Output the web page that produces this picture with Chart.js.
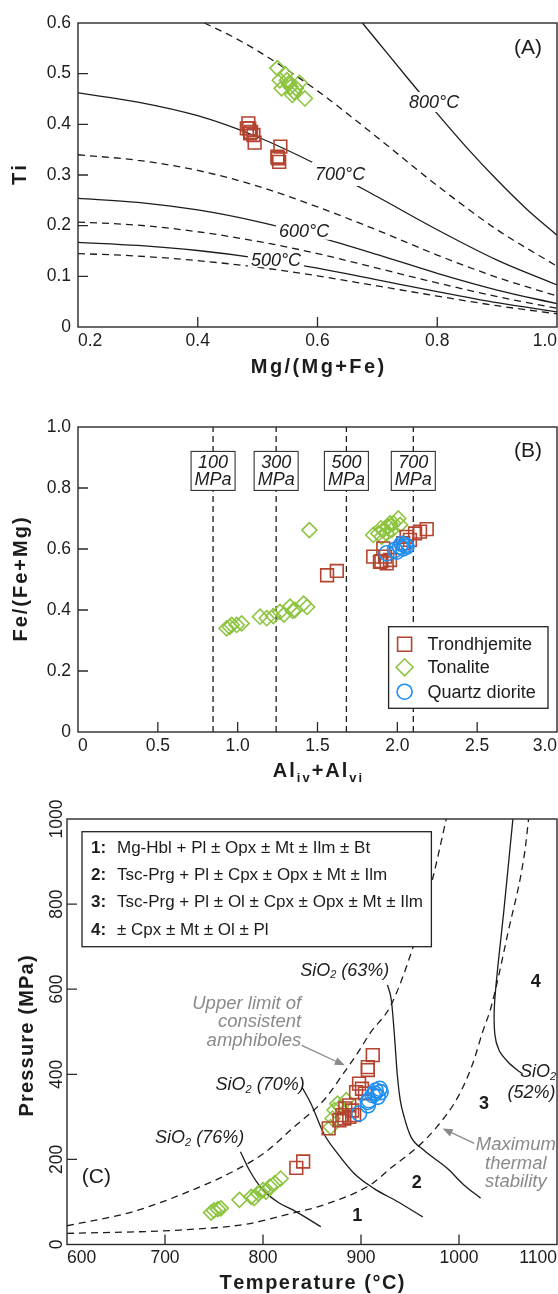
<!DOCTYPE html>
<html><head><meta charset="utf-8">
<script src="https://cdn.jsdelivr.net/npm/chart.js@4.4.1/dist/chart.umd.min.js"></script>
<style>
html,body{margin:0;padding:0;background:#fff;}
#wrap{position:relative;width:558px;height:1294px;overflow:hidden;}
canvas{position:absolute;left:0;}
</style></head><body>
<div id="wrap">
<canvas id="cA" width="558" height="400" style="top:0px"></canvas>
<canvas id="cB" width="558" height="400" style="top:400px"></canvas>
<canvas id="cC" width="558" height="494" style="top:800px"></canvas>
</div>
<script>
// ================= DATA =================
// ---- Panel A : Ti vs Mg/(Mg+Fe) ----
const mgFrac    = [0.2, 0.3, 0.4, 0.5, 0.6, 0.7, 0.8, 0.9, 1.0];
const tiIso450  = [0.145, 0.140, 0.131, 0.118, 0.101, 0.081, 0.061, 0.042, 0.026];
const tiIso500  = [0.167, 0.161, 0.151, 0.136, 0.116, 0.093, 0.070, 0.048, 0.030];
const tiIso550  = [0.207, 0.201, 0.188, 0.169, 0.145, 0.116, 0.087, 0.060, 0.037];
const tiIso600  = [0.254, 0.246, 0.231, 0.208, 0.178, 0.143, 0.106, 0.073, 0.046];
const tiIso650  = [0.340, 0.329, 0.309, 0.278, 0.237, 0.191, 0.142, 0.098, 0.061];
const tiIso700  = [0.462, 0.444, 0.417, 0.375, 0.320, 0.257, 0.192, 0.132, 0.083];
const mgFrac750 = [0.411, 0.45, 0.5, 0.6, 0.7, 0.8, 0.9, 1.0];
const tiIso750  = [0.600, 0.578, 0.545, 0.466, 0.374, 0.279, 0.192, 0.120];
const mgFrac800 = [0.675, 0.70, 0.75, 0.80, 0.85, 0.90, 0.95, 1.0];
const tiIso800  = [0.600, 0.564, 0.492, 0.421, 0.353, 0.290, 0.232, 0.181];
const isoLabels = ['800°C', '700°C', '600°C', '500°C'];

const trondA_mg = [0.4845, 0.486, 0.489, 0.493, 0.495, 0.538, 0.534, 0.536, 0.533, 0.482, 0.4875];
const trondA_ti = [0.402, 0.392, 0.385, 0.379, 0.364, 0.356, 0.333, 0.326, 0.336, 0.392, 0.382];
const tonA_mg   = [0.533, 0.546, 0.537, 0.549, 0.570, 0.540, 0.555, 0.561, 0.558, 0.579, 0.564, 0.552];
const tonA_ti   = [0.511, 0.499, 0.487, 0.487, 0.482, 0.471, 0.474, 0.464, 0.458, 0.451, 0.471, 0.481];

// ---- Panel B : Fe/(Fe+Mg) vs Al ----
const isobarAl    = [0.846, 1.241, 1.681, 2.100];
const isobarLabel = ['100', '300', '500', '700'];
const trondB_al = [1.560, 1.621, 1.849, 1.912, 1.891, 1.933, 1.954, 1.923, 2.058, 2.111, 2.142, 2.184, 2.079, 2.037, 1.900];
const trondB_fe = [0.514, 0.528, 0.575, 0.602, 0.558, 0.553, 0.564, 0.575, 0.640, 0.651, 0.657, 0.665, 0.630, 0.619, 0.560];
const tonB_al = [0.931, 0.963, 0.994, 1.025, 0.950, 1.140, 1.182, 1.223, 1.265, 1.290, 1.328, 1.359, 1.346, 1.413, 1.435, 1.449,
                 1.849, 1.881, 1.912, 1.943, 1.975, 2.006, 2.017, 1.902, 1.933, 1.965, 1.897, 1.954];
const tonB_fe = [0.340, 0.351, 0.351, 0.356, 0.345, 0.378, 0.373, 0.380, 0.394, 0.385, 0.411, 0.400, 0.397, 0.421, 0.410, 0.662,
                 0.646, 0.651, 0.662, 0.673, 0.684, 0.700, 0.679, 0.640, 0.651, 0.662, 0.668, 0.684];
const qdB_al = [1.933, 1.985, 2.017, 2.048, 2.037, 1.996, 2.058, 2.027];
const qdB_fe = [0.586, 0.597, 0.608, 0.613, 0.602, 0.591, 0.608, 0.617];
const seriesNames = ['Trondhjemite', 'Tonalite', 'Quartz diorite'];

// ---- Panel C : Pressure vs Temperature ----
const upperT = [600, 667, 728, 769, 803, 830, 862, 883, 896, 910, 930, 953, 973, 987];
const upperP = [44, 77, 128, 171, 218, 273, 339, 405, 448, 499, 560, 698, 859, 1000];
const maxStabT = [600, 715, 783, 829, 862, 910, 930, 958, 978, 999, 1014, 1024, 1033, 1050, 1067, 1071];
const maxStabP = [26, 34, 48, 73, 93, 141, 179, 230, 278, 347, 425, 499, 560, 733, 921, 1000];
const si76T = [777, 786, 800, 817, 830, 859];
const si76P = [218, 175, 128, 97, 82, 42];
const si70T = [840, 849, 862, 876, 893, 913, 937, 963];
const si70P = [369, 331, 261, 214, 167, 132, 101, 65];
const si63T = [927, 931, 934, 937, 940, 944, 951, 964, 988, 1005, 1022];
const si63P = [610, 574, 495, 400, 340, 300, 253, 222, 179, 140, 109];
const si52T = [1055, 1046, 1036.5, 1036.5, 1041, 1050, 1060, 1065];
const si52P = [1000, 790, 575, 495, 456, 429, 409, 401];

const trondC_T = [834, 841, 912, 907, 907, 898, 901, 895, 904, 888, 884, 881, 883, 888, 893, 867, 878, 891];
const trondC_P = [180, 195, 445, 417, 410, 378, 366, 358, 355, 327, 320, 304, 296, 300, 304, 273, 292, 315];
const tonC_T = [747, 750, 754, 757, 776, 788, 791, 795, 800, 803, 807, 812, 818, 876, 873, 879, 871, 869, 885];
const tonC_P = [75, 80, 83, 85, 105, 112, 109, 120, 128, 124, 136, 144, 155, 331, 316, 323, 296, 276, 339];
const qdC_T = [915, 919, 912, 908, 920, 907, 898, 914, 917, 907];
const qdC_P = [362, 366, 351, 339, 358, 335, 308, 355, 347, 327];

const assemblages = [
  ['1:', 'Mg-Hbl + Pl ± Opx ± Mt ± Ilm ± Bt'],
  ['2:', 'Tsc-Prg + Pl ± Cpx ± Opx ± Mt ± Ilm'],
  ['3:', 'Tsc-Prg + Pl ± Ol ± Cpx ± Opx ± Mt ± Ilm'],
  ['4:', '± Cpx ± Mt ± Ol ± Pl']
];

// ================= STYLE / HELPERS =================
const FONT = "'Liberation Sans', Arial, Helvetica, sans-serif";
const INK = '#1c1c1c';
const RED = '#b4432f', GREEN = '#8cc43f', BLUE = '#1f8ff2', GRAY = '#8a8a8a';
const zip = (xs, ys) => xs.map((v, i) => ({x: v, y: ys[i]}));

function pts(label, xs, ys, style, color, r) {
  return {type: 'scatter', label, data: zip(xs, ys), showLine: false,
    pointStyle: style, pointRadius: r, pointBorderColor: color, borderColor: color,
    pointBackgroundColor: 'rgba(0,0,0,0)', backgroundColor: 'rgba(0,0,0,0)', pointBorderWidth: 1.6};
}
function curve(xs, ys, dash, mode) {
  return {type: 'line', data: zip(xs, ys), borderColor: INK, borderWidth: 1.3, borderDash: dash || [],
    pointRadius: 0, fill: false, cubicInterpolationMode: mode || 'monotone', tension: 0.3};
}
function drawSpaced(ctx, parts, cx, cy, sp, rot) {
  ctx.save(); ctx.translate(cx, cy); if (rot) ctx.rotate(rot);
  ctx.textAlign = 'left'; ctx.textBaseline = 'middle'; ctx.fillStyle = INK;
  const chars = []; let total = 0;
  parts.forEach(p => { ctx.font = p.font; for (const ch of p.t) { const w = ctx.measureText(ch).width; chars.push({ch, w, font: p.font, dy: p.dy || 0}); total += w + sp; } });
  total -= sp;
  let x = -total / 2;
  chars.forEach(c => { ctx.font = c.font; ctx.fillText(c.ch, x, c.dy); x += c.w + sp; });
  ctx.restore();
}
function drawRich(ctx, parts, x, y, align) {
  let w = 0;
  parts.forEach(p => { ctx.font = p.font; p.w = ctx.measureText(p.t).width; w += p.w; });
  let sx = align === 'center' ? x - w / 2 : (align === 'right' ? x - w : x);
  ctx.textAlign = 'left'; ctx.textBaseline = 'middle';
  parts.forEach(p => { ctx.font = p.font; ctx.fillText(p.t, sx, y + (p.dy || 0)); sx += p.w; });
}
function arrow(ctx, x1, y1, x2, y2, color) {
  ctx.save(); ctx.strokeStyle = color; ctx.fillStyle = color; ctx.lineWidth = 1.3;
  const a = Math.atan2(y2 - y1, x2 - x1), L = 10, W = 4;
  ctx.beginPath(); ctx.moveTo(x1, y1); ctx.lineTo(x2 - L * 0.8 * Math.cos(a), y2 - L * 0.8 * Math.sin(a)); ctx.stroke();
  ctx.beginPath(); ctx.moveTo(x2, y2);
  ctx.lineTo(x2 - L * Math.cos(a) + W * Math.sin(a), y2 - L * Math.sin(a) - W * Math.cos(a));
  ctx.lineTo(x2 - L * Math.cos(a) - W * Math.sin(a), y2 - L * Math.sin(a) + W * Math.cos(a));
  ctx.closePath(); ctx.fill(); ctx.restore();
}
// frame + inward ticks + axis titles
function framePlugin(cfg) {
  return {id: 'frame' + cfg.id, afterDraw(chart) {
    const {ctx, chartArea: a, scales: {x, y}} = chart;
    ctx.save(); ctx.strokeStyle = '#2a2a2a'; ctx.lineWidth = 1.3; ctx.beginPath();
    x.ticks.forEach(t => { const px = x.getPixelForValue(t.value); if (px > a.left + 2 && px < a.right - 2) { ctx.moveTo(px, a.bottom); ctx.lineTo(px, a.bottom - 10); } });
    y.ticks.forEach(t => { const py = y.getPixelForValue(t.value); if (py > a.top + 2 && py < a.bottom - 2) { ctx.moveTo(a.left, py); ctx.lineTo(a.left + 10, py); } });
    ctx.stroke();
    ctx.lineWidth = 1.4; ctx.strokeRect(a.left, a.top, a.right - a.left, a.bottom - a.top);
    if (cfg.rotY) {
      ctx.fillStyle = INK; ctx.font = `17.5px ${FONT}`; ctx.textAlign = 'center'; ctx.textBaseline = 'alphabetic';
      y.ticks.forEach(t => { const py = y.getPixelForValue(t.value); ctx.save(); ctx.translate(a.left - 5, py); ctx.rotate(-Math.PI / 2); ctx.fillText(String(t.value), 0, 0); ctx.restore(); });
    }
    drawSpaced(ctx, cfg.xTitle, (a.left + a.right) / 2, cfg.xTitleY, cfg.xSp);
    drawSpaced(ctx, cfg.yTitle, cfg.yTitleX, cfg.yTitleY != null ? cfg.yTitleY : (a.top + a.bottom) / 2, cfg.ySp, -Math.PI / 2);
    ctx.restore();
  }};
}
function baseOptions(o) {
  const tickFont = {family: FONT, size: 17.5};
  return {
    responsive: false, animation: false, devicePixelRatio: 1, events: [],
    layout: {autoPadding: false, padding: {left: 0, top: o.padTop, right: 1, bottom: 0}},
    plugins: {legend: {display: false}, tooltip: {enabled: false}},
    scales: {
      x: {type: 'linear', min: o.xMin, max: o.xMax, grid: {display: false, drawTicks: false}, border: {display: false},
        ticks: {stepSize: o.xStep, align: 'inner', autoSkip: false, maxRotation: 0, minRotation: 0, padding: o.xPad, color: INK, font: tickFont, callback: o.xFmt},
        afterFit: s => { s.height = o.xHeight; s.paddingLeft = 0; s.paddingRight = 0; }},
      y: {type: 'linear', min: o.yMin, max: o.yMax, grid: {display: false, drawTicks: false}, border: {display: false},
        ticks: {display: o.yShow !== false, stepSize: o.yStep, autoSkip: false, padding: 7, color: INK, font: tickFont, callback: o.yFmt},
        afterFit: s => { s.width = o.yWidth; s.paddingTop = 0; s.paddingBottom = 0; }}
    }
  };
}
const f1 = v => (Math.abs(v) < 1e-9 ? '0' : Number(v).toFixed(1));
const B20 = `bold 20px ${FONT}`;

// ================= PANEL A =================
const annA = {id: 'annA', afterDatasetsDraw(chart) {
  const {ctx, chartArea: a, scales: {x, y}} = chart;
  const pos = [[0.7946, 0.444, 10], [0.6376, 0.302, 12], [0.5775, 0.190, 9], [0.5307, 0.132, 7]];
  ctx.save(); ctx.font = `italic 18px ${FONT}`; ctx.textAlign = 'center'; ctx.textBaseline = 'middle';
  isoLabels.forEach((t, i) => {
    const px = x.getPixelForValue(pos[i][0]), py = y.getPixelForValue(pos[i][1]), h = pos[i][2];
    const w = ctx.measureText(t).width;
    ctx.fillStyle = '#fff'; ctx.fillRect(px - w / 2 - 3, py - h, w + 6, 2 * h);
    ctx.fillStyle = INK; ctx.fillText(t, px, py + 1);
  });
  ctx.font = `21px ${FONT}`; ctx.fillText('(A)', a.right - 29, a.top + 25);
  ctx.restore();
}};
new Chart(document.getElementById('cA'), {
  type: 'scatter',
  data: {datasets: [
    pts('Tonalite', tonA_mg, tonA_ti, 'rectRot', GREEN, 7.5),
    pts('Trondhjemite', trondA_mg, trondA_ti, 'rect', RED, 9),
    curve(mgFrac800, tiIso800), curve(mgFrac750, tiIso750, [7, 5]),
    curve(mgFrac, tiIso700), curve(mgFrac, tiIso650, [7, 5]),
    curve(mgFrac, tiIso600), curve(mgFrac, tiIso550, [7, 5]),
    curve(mgFrac, tiIso500), curve(mgFrac, tiIso450, [7, 5])
  ]},
  options: baseOptions({padTop: 23, xMin: 0.2, xMax: 1.0, xStep: 0.2, yMin: 0, yMax: 0.6, yStep: 0.1,
    xHeight: 73, yWidth: 78, xPad: 4, xFmt: f1, yFmt: f1}),
  plugins: [annA, framePlugin({id: 'A', xTitle: [{t: 'Mg/(Mg+Fe)', font: B20}], xTitleY: 367, xSp: 2.4,
    yTitle: [{t: 'Ti', font: B20}], yTitleX: 20, ySp: 2})]
});

// ================= PANEL B =================
const annB = {id: 'annB', afterDatasetsDraw(chart) {
  const {ctx, chartArea: a, scales: {x, y}} = chart;
  ctx.save();
  isobarAl.forEach((al, i) => {
    const px = x.getPixelForValue(al), py = y.getPixelForValue(0.856);
    ctx.fillStyle = '#fff'; ctx.fillRect(px - 22, py - 19.5, 44, 39);
    ctx.strokeStyle = '#333'; ctx.lineWidth = 1.1; ctx.strokeRect(px - 22, py - 19.5, 44, 39);
    ctx.fillStyle = INK; ctx.font = `italic 18px ${FONT}`; ctx.textAlign = 'center'; ctx.textBaseline = 'middle';
    ctx.fillText(isobarLabel[i], px, py - 8); ctx.fillText('MPa', px, py + 9.5);
  });
  ctx.font = `21px ${FONT}`; ctx.textAlign = 'center'; ctx.textBaseline = 'middle';
  ctx.fillText('(B)', a.right - 29, a.top + 24);
  // legend
  const L = a.right - 168.4, T = a.bottom - 105.3;
  ctx.fillStyle = '#fff'; ctx.fillRect(L, T, 159.4, 81.6);
  ctx.strokeStyle = '#222'; ctx.lineWidth = 1.3; ctx.strokeRect(L, T, 159.4, 81.6);
  const rows = [17.6, 40.6, 65];
  const cols = [RED, GREEN, BLUE];
  rows.forEach((ry, i) => {
    const mx = L + 16, my = T + ry;
    ctx.strokeStyle = cols[i]; ctx.lineWidth = 1.6; ctx.beginPath();
    if (i === 0) ctx.rect(mx - 7, my - 7, 14, 14);
    else if (i === 1) { ctx.moveTo(mx - 8.5, my); ctx.lineTo(mx, my - 8.5); ctx.lineTo(mx + 8.5, my); ctx.lineTo(mx, my + 8.5); ctx.closePath(); }
    else ctx.arc(mx, my, 7.5, 0, Math.PI * 2);
    ctx.stroke();
    ctx.fillStyle = INK; ctx.font = `18px ${FONT}`; ctx.textAlign = 'left'; ctx.textBaseline = 'middle';
    ctx.fillText(seriesNames[i], L + 39, my + 1);
  });
  ctx.restore();
}};
const isobarSets = isobarAl.map(al => ({type: 'line', data: [{x: al, y: 0}, {x: al, y: 1}], borderColor: INK, borderWidth: 1.3,
  borderDash: [6, 4], pointRadius: 0, fill: false, tension: 0}));
new Chart(document.getElementById('cB'), {
  type: 'scatter',
  data: {datasets: [
    pts(seriesNames[2], qdB_al, qdB_fe, 'circle', BLUE, 7.5),
    pts(seriesNames[0], trondB_al, trondB_fe, 'rect', RED, 9),
    pts(seriesNames[1], tonB_al, tonB_fe, 'rectRot', GREEN, 7.5),
    ...isobarSets
  ]},
  options: baseOptions({padTop: 27, xMin: 0, xMax: 3, xStep: 0.5, yMin: 0, yMax: 1, yStep: 0.2,
    xHeight: 68, yWidth: 78, xPad: 4, xFmt: f1, yFmt: f1}),
  plugins: [annB, framePlugin({id: 'B',
    xTitle: [{t: 'Al', font: B20}, {t: 'iv', font: `bold 13px ${FONT}`, dy: 7}, {t: '+Al', font: B20}, {t: 'vi', font: `bold 13px ${FONT}`, dy: 7}],
    xTitleY: 371.7, xSp: 2, yTitle: [{t: 'Fe/(Fe+Mg)', font: B20}], yTitleX: 21, ySp: 2})]
});

// ================= PANEL C =================
const annC = {id: 'annC', afterDatasetsDraw(chart) {
  const {ctx, chartArea: a, scales: {x, y}} = chart;
  const X = v => x.getPixelForValue(v), Y = v => y.getPixelForValue(v);
  ctx.save(); ctx.fillStyle = INK;
  const it18 = `italic 18px ${FONT}`, it11 = `italic 11px ${FONT}`;
  [['63%', 883.4, 643.6], ['70%', 797.1, 374], ['76%', 735.3, 250]].forEach(s => {
    drawRich(ctx, [{t: 'SiO', font: it18}, {t: '2', font: it11, dy: 4.5}, {t: ' (' + s[0] + ')', font: it18}], X(s[1]), Y(s[2]), 'center');
  });
  drawRich(ctx, [{t: 'SiO', font: it18}, {t: '2', font: it11, dy: 4.5}], X(1080.6), Y(405), 'center');
  drawRich(ctx, [{t: '(52%)', font: it18}], X(1074), Y(355), 'center');
  ctx.font = `bold 18px ${FONT}`; ctx.textAlign = 'center'; ctx.textBaseline = 'middle';
  [['1', 896.2, 67], ['2', 957, 144], ['3', 1025.4, 329.6], ['4', 1078.3, 616]].forEach(n => ctx.fillText(n[0], X(n[1]), Y(n[2])));
  ctx.font = `21px ${FONT}`; ctx.fillText('(C)', X(630), Y(158.5));
  // gray annotations
  ctx.fillStyle = GRAY; ctx.font = `italic 18.5px ${FONT}`;
  ctx.textAlign = 'right';
  ['Upper limit of', 'consistent', 'amphiboles'].forEach((t, i) => ctx.fillText(t, X(839), Y(566) + i * 18.5));
  ctx.textAlign = 'center';
  ['Maximum', 'thermal', 'stability'].forEach((t, i) => ctx.fillText(t, X(1058), Y(233.5) + i * 18.5));
  arrow(ctx, X(839.5), Y(468), X(883.4), Y(421), GRAY);
  arrow(ctx, X(1015.5), Y(237.5), X(983.3), Y(272.6), GRAY);
  // assemblage legend box
  const L = a.left + 15, T = a.top + 12.7, W = 349.4, H = 115;
  ctx.fillStyle = '#fff'; ctx.fillRect(L, T, W, H);
  ctx.strokeStyle = '#222'; ctx.lineWidth = 1.3; ctx.strokeRect(L, T, W, H);
  ctx.fillStyle = INK; ctx.textAlign = 'left'; ctx.textBaseline = 'middle';
  [16.6, 44, 71, 98.3].forEach((ry, i) => {
    ctx.font = `bold 17px ${FONT}`; ctx.fillText(assemblages[i][0], L + 9, T + ry);
    ctx.font = `17px ${FONT}`; ctx.fillText(assemblages[i][1], L + 35, T + ry);
  });
  ctx.restore();
}};
new Chart(document.getElementById('cC'), {
  type: 'scatter',
  data: {datasets: [
    pts(seriesNames[2], qdC_T, qdC_P, 'circle', BLUE, 7.5),
    pts(seriesNames[0], trondC_T, trondC_P, 'rect', RED, 9),
    pts(seriesNames[1], tonC_T, tonC_P, 'rectRot', GREEN, 7.5),
    curve(upperT, upperP, [7, 5]), curve(maxStabT, maxStabP, [7, 5]),
    curve(si76T, si76P), curve(si70T, si70P), curve(si63T, si63P), curve(si52T, si52P, null, 'default')
  ]},
  options: baseOptions({padTop: 19, xMin: 600, xMax: 1100, xStep: 100, yMin: 0, yMax: 1000, yStep: 200,
    xHeight: 49.5, yWidth: 67, xPad: 3, yShow: false, xFmt: v => String(v), yFmt: v => String(v)}),
  plugins: [annC, framePlugin({id: 'C', rotY: true, xTitle: [{t: 'Temperature (°C)', font: B20}], xTitleY: 483, xSp: 1.5,
    yTitle: [{t: 'Pressure (MPa)', font: B20}], yTitleX: 27, yTitleY: 236, ySp: 1.2})]
});
</script>
</body></html>
